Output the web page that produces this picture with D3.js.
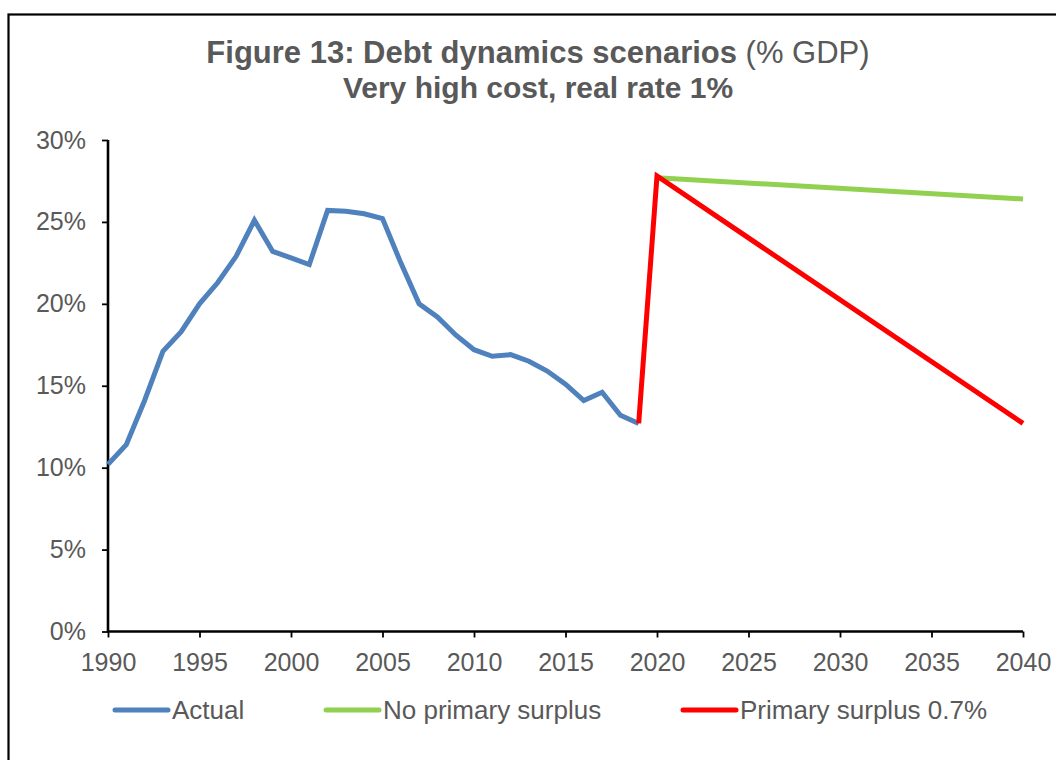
<!DOCTYPE html>
<html>
<head>
<meta charset="utf-8">
<script src="https://cdn.jsdelivr.net/npm/d3@7"></script>
<style>
  html, body { margin: 0; padding: 0; background: #fff; }
  svg { display: block; font-family: "Liberation Sans", Arial, sans-serif; }
</style>
</head>
<body>
<svg id="chart" width="1056" height="760"></svg>
<script>
// Debt-to-GDP history (1990-2019), % GDP
const actualYears = [1990,1991,1992,1993,1994,1995,1996,1997,1998,1999,2000,2001,2002,2003,2004,
  2005,2006,2007,2008,2009,2010,2011,2012,2013,2014,2015,2016,2017,2018,2019];
const actualValues = [10.2,11.4,14.1,17.1,18.3,20.0,21.3,22.9,25.1,23.2,22.8,22.4,25.7,25.65,25.5,
  25.2,22.5,20.0,19.2,18.1,17.2,16.8,16.9,16.5,15.9,15.1,14.1,14.6,13.2,12.7];

// Scenario paths
const noSurplusYears = [2020, 2040];
const noSurplusValues = [27.7, 26.4];
const surplusYears = [2019, 2020, 2040];
const surplusValues = [12.7, 27.8, 12.7];

const xTicks = [1990,1995,2000,2005,2010,2015,2020,2025,2030,2035,2040];
const yTicks = [0,5,10,15,20,25,30];

const seriesNames = ["Actual", "No primary surplus", "Primary surplus 0.7%"];
const seriesColors = ["#4F81BD", "#92D050", "#FF0000"];

const svg = d3.select("#chart");
const textColor = "#595959";

// outer frame
svg.append("rect")
  .attr("x", 8.5).attr("y", 14.5)
  .attr("width", 1100).attr("height", 800)
  .attr("fill", "none").attr("stroke", "#000").attr("stroke-width", 2.2);

// title
const title = svg.append("text")
  .attr("x", 538).attr("y", 63)
  .attr("text-anchor", "middle")
  .attr("fill", textColor)
  .style("font-size", "31px");
title.append("tspan").attr("font-weight", "bold").text("Figure 13: Debt dynamics scenarios");
title.append("tspan").text(" (% GDP)");
svg.append("text")
  .attr("x", 538).attr("y", 98)
  .attr("text-anchor", "middle")
  .attr("fill", textColor)
  .attr("font-weight", "bold")
  .style("font-size", "30px")
  .text("Very high cost, real rate 1%");

const x = d3.scaleLinear().domain([1990, 2040]).range([108, 1023]);
const y = d3.scaleLinear().domain([0, 30]).range([631.5, 140]);

// y axis
const yAxis = svg.append("g")
  .attr("transform", `translate(${x(1990)},0)`)
  .call(d3.axisLeft(y).tickValues(yTicks).tickFormat(d => d + "%").tickSize(6).tickPadding(16));
yAxis.select(".domain").attr("stroke", "#000").attr("stroke-width", 2.6)
  .attr("d", `M0,${y(30)}V${y(0)}`);
yAxis.selectAll(".tick line").attr("stroke", "#000").attr("stroke-width", 1.8);
yAxis.selectAll(".tick text")
  .attr("fill", textColor)
  .style("font-size", "25px")
  .style("font-family", '"Liberation Sans", Arial, sans-serif');

// x axis
const xAxis = svg.append("g")
  .attr("transform", `translate(0,${y(0)})`)
  .call(d3.axisBottom(x).tickValues(xTicks).tickFormat(d3.format("d")).tickSize(6).tickPadding(16));
xAxis.select(".domain").attr("stroke", "#000").attr("stroke-width", 2.6)
  .attr("d", `M${x(1990)},0H${x(2040)}`);
xAxis.selectAll(".tick line").attr("stroke", "#000").attr("stroke-width", 1.8);
xAxis.selectAll(".tick text")
  .attr("fill", textColor)
  .style("font-size", "25px")
  .style("font-family", '"Liberation Sans", Arial, sans-serif');

const line = d3.line().x(d => x(d[0])).y(d => y(d[1]));
const series = [
  d3.zip(actualYears, actualValues),
  d3.zip(noSurplusYears, noSurplusValues),
  d3.zip(surplusYears, surplusValues)
];

svg.append("g").selectAll("path")
  .data(series)
  .join("path")
  .attr("d", line)
  .attr("fill", "none")
  .attr("stroke", (d, i) => seriesColors[i])
  .attr("stroke-width", 5)
  .attr("stroke-linejoin", "miter")
  .attr("stroke-miterlimit", 3);

// legend
const legendX = [115, 326, 683];
const legend = svg.append("g").selectAll("g")
  .data(seriesNames)
  .join("g")
  .attr("transform", (d, i) => `translate(${legendX[i]},710)`);
legend.append("line")
  .attr("x1", 0).attr("x2", 53).attr("y1", 0).attr("y2", 0)
  .attr("stroke", (d, i) => seriesColors[i])
  .attr("stroke-width", 5)
  .attr("stroke-linecap", "round");
legend.append("text")
  .attr("x", 57).attr("y", 9)
  .attr("fill", textColor)
  .style("font-size", "26px")
  .text(d => d);
</script>
</body>
</html>
